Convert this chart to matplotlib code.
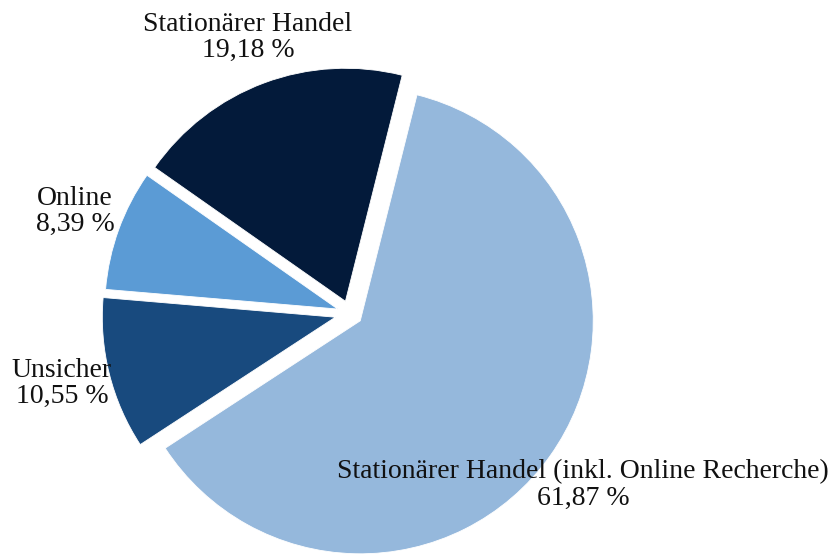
import matplotlib.pyplot as plt

labels = ["Stationärer Handel", "Online", "Unsicher",
          "Stationärer Handel (inkl. Online Recherche)"]
values = [19.18, 8.39, 10.55, 61.87]
colors = ["#031a3a", "#5b9bd5", "#184a7e", "#95b8dc"]
explode = [0.056, 0.056, 0.065, 0.054]

plt.rcParams['font.family'] = ['Liberation Serif', 'DejaVu Serif']

fig = plt.figure(figsize=(8.4, 5.55), dpi=100)
ax = fig.add_axes([0, 0, 1, 1])

wedges, _ = ax.pie(values, colors=colors, explode=explode, startangle=75.9,
                   counterclock=True, radius=1,
                   wedgeprops=dict(edgecolor="white", linewidth=0.6))

# 1 data unit = 233 px, centre at (350, 313.5) px from top-left
ax.set_aspect('auto')
ax.set_xlim(-350 / 233, (840 - 350) / 233)
ax.set_ylim(-(555 - 313.5) / 233, 313.5 / 233)
ax.axis('off')

# label positions in figure fraction (x, y from bottom)
label_pos = [(248 / 840, 1 - 37 / 555), (75 / 840, 1 - 211 / 555),
             (62 / 840, 1 - 383 / 555), (583 / 840, 1 - 485 / 555)]
for lab, val, (x, y) in zip(labels, values, label_pos):
    num = f"{val:.2f}".replace(".", ",")
    fig.text(x, y, f"{lab}\n{num} %", ha="center", va="center", fontsize=20,
             linespacing=1.05, color="#111111")

fig.savefig("out.png", dpi=100)
